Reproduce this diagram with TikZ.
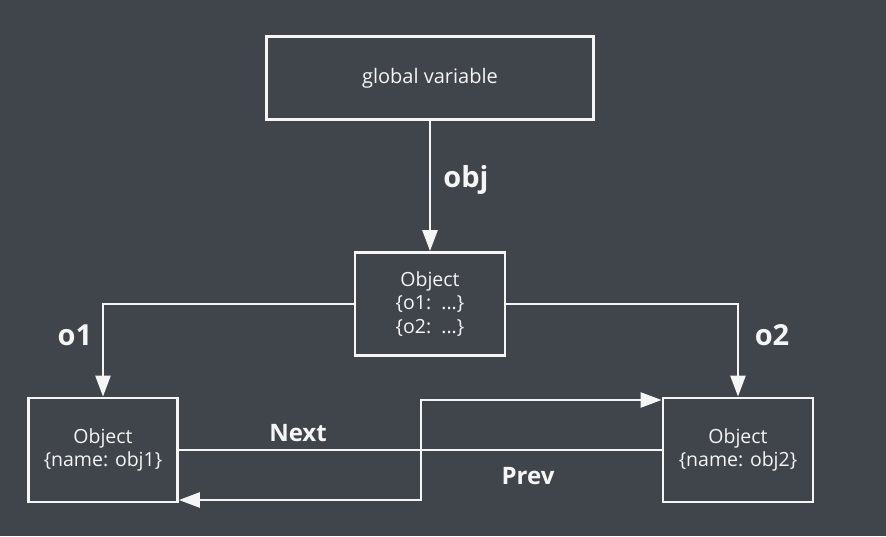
\documentclass[tikz,border=0pt]{standalone}
\usepackage{fontspec}
\setmainfont{Open Sans}
\usetikzlibrary{arrows.meta}
\definecolor{bg}{RGB}{64,68,75}
\definecolor{fg}{RGB}{245,245,245}
\begin{document}
\begin{tikzpicture}[x=1pt,y=-1pt,
  box/.style={draw=fg,line width=2.8pt,fill=bg,text=fg,align=center,inner sep=0pt,font=\fontsize{19.5}{23.5}\selectfont},
  conn/.style={draw=fg,line width=2.5pt},
  arr/.style={conn,-{Triangle[length=21pt,width=15pt]}},
  lbl/.style={text=fg,font=\fontsize{29}{34}\selectfont\bfseries},
  lbls/.style={text=fg,font=\fontsize{24}{28}\selectfont\bfseries}]
\fill[bg] (0,0) rectangle (886,536);
\useasboundingbox (0,0) rectangle (886,536);
\node[box,minimum width=327pt,minimum height=83pt,font=\fontsize{20}{24}\selectfont] (g) at (430,78) {\raisebox{-3pt}{global variable}};
\node[box,minimum width=150pt,minimum height=103pt] (m) at (430,304) {Object\\\{o1:\ \ ...\}\\\{o2:\ \ ...\}};
\node[box,minimum width=149pt,minimum height=104pt] (a) at (103,450) {Object\\\{name: obj1\}};
\node[box,minimum width=150pt,minimum height=104pt] (b) at (738,450) {Object\\\{name: obj2\}};
\coordinate (k1) at (421,450);
\draw[arr] (g.south) -- (m.north);
\draw[arr] (m.west) -| (a.north);
\draw[arr] (m.east) -| (b.north);
\draw[arr] (a.east) -- (k1) |- ([yshift=50pt]b.west);
\draw[arr] (b.west) -- (k1) |- ([yshift=-50pt]a.east);
\node[lbl] (lobj) at (466,180) {obj};
\node[lbl] (lo1) at (75,335) {o1};
\node[lbl] (lo2) at (772,335) {o2};
\node[lbls] (lnext) at (298,433) {Next};
\node[lbls] (lprev) at (528,476) {Prev};
\end{tikzpicture}
\end{document}
